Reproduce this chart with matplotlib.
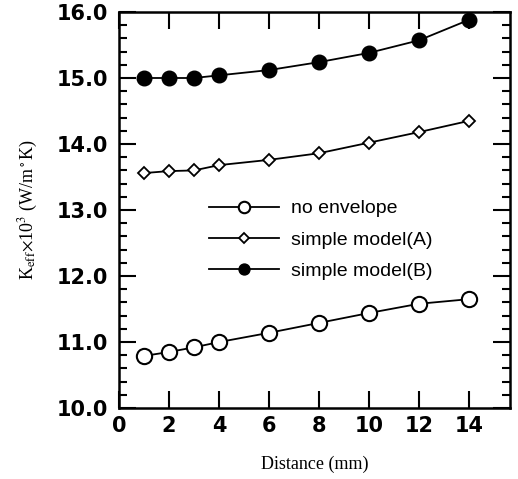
import matplotlib.pyplot as plt
from matplotlib.ticker import MultipleLocator

plt.rcParams['mathtext.fontset'] = 'stix'

x = [1, 2, 3, 4, 6, 8, 10, 12, 14]
no_envelope = [10.79, 10.85, 10.92, 11.00, 11.14, 11.29, 11.44, 11.58, 11.65]
model_a = [13.56, 13.59, 13.60, 13.68, 13.76, 13.86, 14.02, 14.18, 14.35]
model_b = [15.00, 15.00, 15.00, 15.04, 15.12, 15.24, 15.38, 15.57, 15.88]

fig = plt.figure(figsize=(5.18, 4.79), dpi=100)
ax = fig.add_axes([0.2297, 0.148, 0.755, 0.827])

ax.plot(x, no_envelope, color='black', lw=1.3, marker='o', ms=11,
        mfc='white', mec='black', mew=1.5, label='no envelope')
ax.plot(x, model_a, color='black', lw=1.3, marker='D', ms=6.5,
        mfc='white', mec='black', mew=1.3, label='simple model(A)')
ax.plot(x, model_b, color='black', lw=1.3, marker='o', ms=10.5,
        mfc='black', mec='black', label='simple model(B)')

ax.set_xlim(0, 15.65)
ax.set_ylim(10.0, 16.0)
ax.xaxis.set_major_locator(MultipleLocator(2))
ax.yaxis.set_major_locator(MultipleLocator(1))
ax.yaxis.set_minor_locator(MultipleLocator(0.2))
ax.set_xticks([0, 2, 4, 6, 8, 10, 12, 14])
ax.set_yticklabels(['%.1f' % v for v in ax.get_yticks()])

ax.tick_params(which='both', direction='in', top=True, right=True, width=1.5)
ax.tick_params(which='major', length=12)
ax.tick_params(which='minor', length=6)
ax.tick_params(axis='x', which='major', pad=6)
ax.tick_params(axis='y', which='major', pad=8)
for lab in ax.get_xticklabels() + ax.get_yticklabels():
    lab.set_fontfamily('DejaVu Sans')
    lab.set_fontsize(15)
    lab.set_fontweight('bold')
for s in ax.spines.values():
    s.set_linewidth(1.8)

ax.set_ylabel(r'K$_{\rm eff}$$\times$10$^3$ (W/m$^\circ$K)',
              fontfamily='Liberation Serif', fontsize=13, labelpad=12)
ax.set_xlabel('Distance (mm)', fontfamily='Liberation Serif', fontsize=13,
              labelpad=14)

leg = ax.legend(loc='upper left', bbox_to_anchor=(0.185, 0.57), frameon=False,
                handlelength=3.6, labelspacing=0.7, handletextpad=0.6,
                markerscale=0.75,
                prop={'family': 'Liberation Sans', 'size': 14})

plt.savefig('out.png', dpi=100)
